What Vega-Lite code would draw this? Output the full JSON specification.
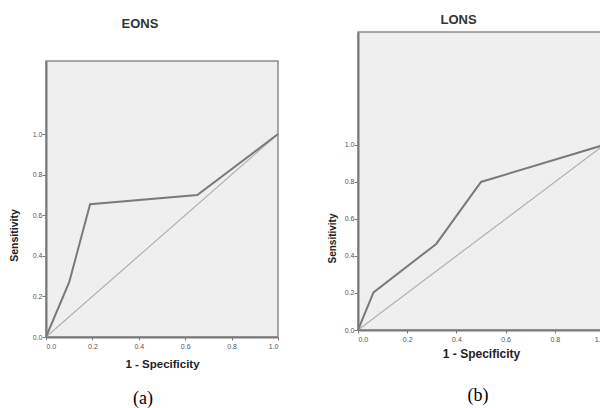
{
  "$schema": "https://vega.github.io/schema/vega-lite/v6.json",
  "padding": {"left": 8, "top": 12, "right": 0, "bottom": 0},
  "background": "white",
  "datasets": {
    "eons": [
      {"fpr": 0, "tpr": 0},
      {"fpr": 0.1, "tpr": 0.27},
      {"fpr": 0.19, "tpr": 0.654},
      {"fpr": 0.652, "tpr": 0.7},
      {"fpr": 1, "tpr": 1}
    ],
    "lons": [
      {"fpr": 0, "tpr": 0},
      {"fpr": 0.063, "tpr": 0.203},
      {"fpr": 0.318, "tpr": 0.465},
      {"fpr": 0.5, "tpr": 0.8},
      {"fpr": 1, "tpr": 1}
    ],
    "diag": [
      {"fpr": 0, "tpr": 0},
      {"fpr": 1, "tpr": 1}
    ]
  },
  "config": {
    "view": {"fill": "#efefef", "stroke": "#8c8c8c", "strokeWidth": 1.5},
    "axis": {
      "grid": false,
      "domainColor": "#7a7a7a",
      "domainWidth": 2,
      "tickColor": "#7a7a7a",
      "labelFont": "Liberation Sans",
      "labelFontSize": 7,
      "labelColor": "#555555",
      "titleFont": "Liberation Sans",
      "titleFontWeight": "bold",
      "titleColor": "#222222"
    }
  },
  "spacing": 43,
  "hconcat": [
    {
      "spacing": 0,
      "vconcat": [
        {
          "width": 232,
          "height": 28,
          "view": {"fill": null, "stroke": null},
          "title": {"text": "EONS", "font": "Liberation Sans", "fontSize": 13, "fontWeight": "bold", "color": "#333333", "offset": 1, "anchor": "middle", "dx": -22},
          "data": {"values": []},
          "mark": "point",
          "encoding": {}
        },
        {
          "width": 232,
          "height": 276,
          "title": {"text": "(a)", "orient": "bottom", "anchor": "middle", "font": "Liberation Serif", "fontSize": 18, "fontWeight": "normal", "color": "#000000", "offset": 20, "dx": -19},
          "encoding": {
            "x": {"field": "fpr", "type": "quantitative", "scale": {"domain": [0, 1], "nice": false},
              "axis": {"values": [0, 0.2, 0.4, 0.6, 0.8, 1], "format": ".1f", "title": "1 - Specificity", "titleFontSize": 11.5, "titlePadding": 9, "tickSize": 3, "labelPadding": 2}},
            "y": {"field": "tpr", "type": "quantitative", "scale": {"domain": [0, 1.36], "nice": false},
              "axis": {"values": [0, 0.2, 0.4, 0.6, 0.8, 1], "format": ".1f", "title": "Sensitivity", "titleFontSize": 10.5, "titleX": -27, "titleY": 174, "titleAlign": "center", "titleBaseline": "bottom", "tickSize": 4, "labelPadding": 0}}
          },
          "layer": [
            {"data": {"name": "diag"}, "mark": {"type": "line", "color": "#b0b0b0", "strokeWidth": 1.2}},
            {"data": {"name": "eons"}, "mark": {"type": "line", "color": "#7a7a7a", "strokeWidth": 2}}
          ]
        }
      ]
    },
    {
      "width": 246,
      "height": 298,
      "title": {"text": "(b)", "orient": "bottom", "anchor": "middle", "font": "Liberation Serif", "fontSize": 18, "fontWeight": "normal", "color": "#000000", "offset": 28, "dx": -3},
      "encoding": {
        "x": {"field": "fpr", "type": "quantitative", "scale": {"domain": [0, 1], "nice": false},
          "axis": {"values": [0, 0.2, 0.4, 0.6, 0.8, 1], "format": ".1f", "title": "1 - Specificity", "titleFontSize": 12, "titlePadding": 6, "tickSize": 3, "labelPadding": 2}},
        "y": {"field": "tpr", "type": "quantitative", "scale": {"domain": [0, 1.61], "nice": false},
          "axis": {"values": [0, 0.2, 0.4, 0.6, 0.8, 1], "format": ".1f", "title": "Sensitivity", "titleFontSize": 10, "titleX": -21, "titleY": 206, "titleAlign": "center", "titleBaseline": "bottom", "tickSize": 4, "labelPadding": 0}}
      },
      "layer": [
        {"data": {"name": "diag"}, "mark": {"type": "line", "color": "#b0b0b0", "strokeWidth": 1.2}},
        {"data": {"name": "lons"}, "mark": {"type": "line", "color": "#7a7a7a", "strokeWidth": 2},
          "encoding": {
            "x": {"field": "fpr", "type": "quantitative", "axis": {"orient": "top", "title": "LONS", "labels": false, "ticks": false, "domain": false, "titleFontSize": 13, "titleColor": "#333333", "titlePadding": 6, "titleX": 100}}
          }
        }
      ],
      "resolve": {"axis": {"x": "independent"}}
    }
  ]
}
